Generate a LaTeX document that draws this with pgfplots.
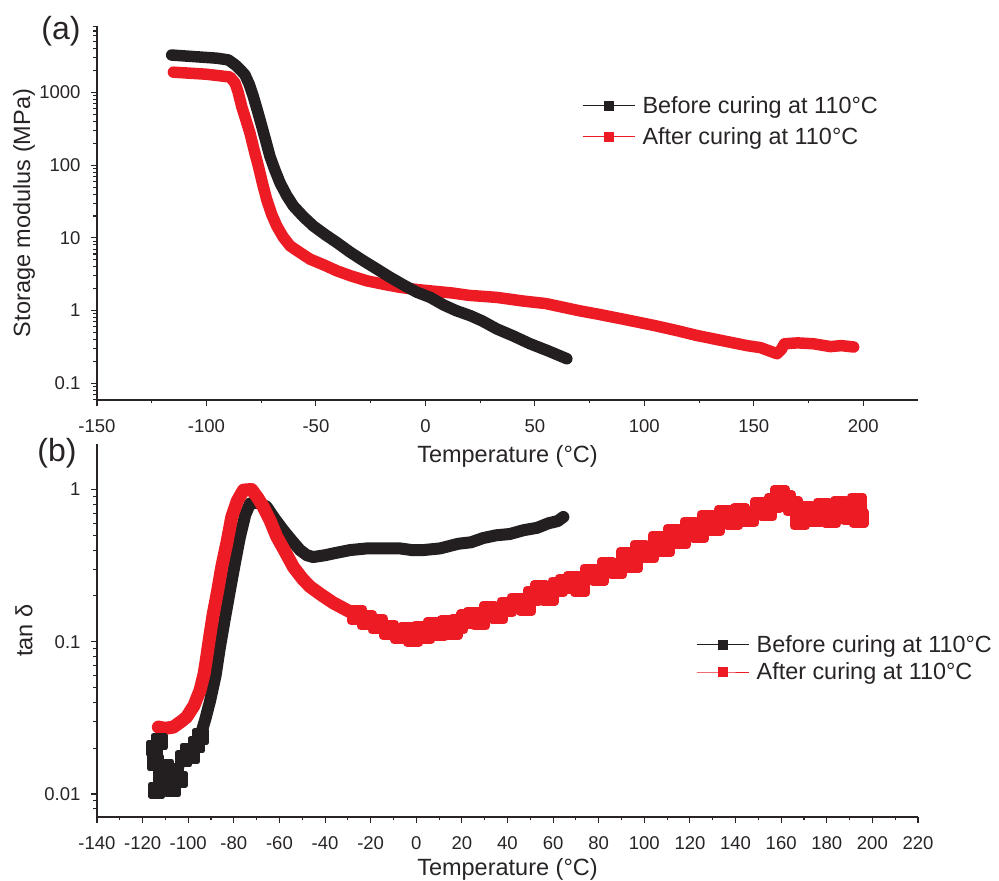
\documentclass[border=0pt]{standalone}
\usepackage{pgfplots}
\pgfplotsset{compat=1.18}
\usepackage{fontspec}
\setmainfont{Liberation Sans}
\definecolor{cblack}{RGB}{35,31,32}
\definecolor{cred}{RGB}{237,28,36}
\definecolor{caxis}{RGB}{40,36,37}

\pgfplotsset{
  myaxis/.style={
    scale only axis, width=821pt,
    axis lines*=left,
    axis line style={caxis, line width=1.3pt},
    tick style={caxis, line width=1.1pt},
    tick align=outside,
    major tick length=6pt, minor tick length=3.5pt,
    minor x tick num=1,
    tick label style={font=\fontsize{18.5}{22}\selectfont, text=caxis},
    xticklabel style={yshift=-10pt},
    yticklabel style={xshift=-7pt},
    /pgf/number format/assume math mode=true,
    label style={font=\fontsize{23.5}{28}\selectfont, text=caxis},
    xlabel style={at={(axis description cs:0.5,0)}, anchor=base, yshift=-58pt},
    ylabel style={at={(axis description cs:0,0.5)}, anchor=center, yshift=73pt},
    legend style={draw=none, fill=none, font=\fontsize{23.4}{28}\selectfont, text=caxis,
      nodes={inner sep=1.5pt}, /tikz/every odd column/.append style={column sep=6pt}},
    legend cell align=left,
  },
  legimg/.style={line width=0.9pt, mark=square*, mark size=4.5pt, mark options={solid},
    legend image code/.code={\draw[mark repeat=2,mark phase=2,##1] plot coordinates {(0pt,0pt)(26pt,0pt)(52pt,0pt)};}},
  band/.style={line width=#1, line join=round, line cap=round, forget plot},
  blocks/.style={line width=#1, line join=round, line cap=butt, mark=square*, mark size=6pt, mark options={solid}, forget plot},
}

\begin{document}
\begin{tikzpicture}
\path[use as bounding box] (-97pt,-64pt) rectangle (902pt,817pt);

% ---------------- top panel (a)
\begin{axis}[ymode=log, myaxis, name=top, at={(0pt,417pt)}, anchor=south west, height=374pt,
  xmin=-150, xmax=225, xtick={-150,-100,-50,0,50,100,150,200},
  ymin=0.059, ymax=8200,
  ytick={0.1,1,10,100,1000}, yticklabels={0.1,1,10,100,1000},
  minor ytick={0.06,0.07,0.08,0.09,0.2,0.3,0.4,0.5,0.6,0.7,0.8,0.9,2,3,4,5,6,7,8,9,20,30,40,50,60,70,80,90,200,300,400,500,600,700,800,900,2000,3000,4000,5000,6000,7000,8000},
  xlabel={Temperature (°C)}, ylabel={Storage modulus (MPa)},
  xlabel style={yshift=-5pt},
  legend style={at={(0.587,0.822)}, anchor=north west, row sep=10pt},
]
\addlegendimage{cblack, legimg}
\addlegendentry{Before curing at 110°C}
\addlegendimage{cred, legimg}
\addlegendentry{After curing at 110°C}

\addplot[cred, band=11.5pt] coordinates {
(-115.1,1900)(-100,1780)(-89.2,1630)(-86.9,1340)(-85.5,1000)(-83.9,640)(-82,420)(-80.1,274)(-78.2,160)(-76.3,97)(-74.4,56)(-72.5,33.8)(-70.2,21)(-67.9,14.6)(-65,10.3)(-61.8,7.77)(-57,6.2)(-52.7,5.1)(-46,4.2)(-40.5,3.53)(-34,3.0)(-26.8,2.57)(-19,2.3)(-11.6,2.09)(-4,1.95)(3.7,1.85)(12,1.75)(20,1.62)(32.6,1.52)(45,1.35)(55,1.25)(63,1.11)(70,1.0)(80,0.88)(93.5,0.73)(105,0.62)(115,0.53)(124,0.455)(135,0.39)(146.9,0.33)(153,0.31)(157,0.28)(160.6,0.255)(162.5,0.29)(164,0.35)(170,0.36)(177.3,0.35)(185,0.32)(190,0.33)(195.6,0.316)
};
\addplot[cblack, band=11.5pt] coordinates {
(-115.9,3270)(-105,3100)(-95.3,2960)(-90,2800)(-86.9,2400)(-84.5,2050)(-82.4,1740)(-80.5,1300)(-78.6,880)(-76.7,560)(-74.7,340)(-72.8,210)(-71,132)(-68.7,85)(-66.4,57)(-63.3,38)(-60.3,27.5)(-55.7,19.5)(-51.2,14.6)(-46,11.2)(-40.5,8.65)(-34.5,6.4)(-28.3,4.84)(-22,3.7)(-16.1,2.87)(-10,2.25)(-3.9,1.79)(2.2,1.52)(8.2,1.2)(14,1.0)(20.4,0.855)(26,0.72)(32.6,0.56)(40,0.45)(47.8,0.35)(56,0.28)(64.6,0.218)
};
\end{axis}

% ---------------- bottom panel (b)
\begin{axis}[ymode=log, myaxis, name=bot, at={(0pt,0pt)}, anchor=south west, height=373pt,
  xmin=-140, xmax=220, xtick={-140,-120,...,220},
  ymin=0.00706, ymax=1.99,
  ytick={0.01,0.1,1}, yticklabels={0.01,0.1,1},
  minor ytick={0.008,0.009,0.02,0.03,0.04,0.05,0.06,0.07,0.08,0.09,0.2,0.3,0.4,0.5,0.6,0.7,0.8,0.9},
  xlabel={Temperature (°C)}, ylabel={tan δ},
  legend style={at={(0.726,0.497)}, anchor=north west, row sep=6pt},
]
\addlegendimage{cblack, legimg}
\addlegendentry{Before curing at 110°C}
\addlegendimage{cred, legimg}
\addlegendentry{After curing at 110°C}

% black: noisy start (blocks), then smooth band
\addplot[cblack, blocks=5pt] coordinates {
(-114.6,0.020)(-114.2,0.016)(-113.8,0.0106)(-112.8,0.022)(-111.5,0.013)(-110,0.015)(-108.5,0.012)(-107,0.0108)(-105.5,0.014)(-104,0.0125)(-102,0.017)(-100,0.019)(-98.5,0.018)(-96.5,0.021)(-94.8,0.0237)
};
\addplot[cblack, band=12pt] coordinates {
(-94.8,0.0237)(-92.5,0.031)(-90.4,0.041)(-88,0.060)(-86.1,0.092)(-84,0.14)(-81.7,0.218)(-79.5,0.33)(-77.3,0.49)(-75,0.68)(-72.9,0.81)(-69,0.82)(-65.6,0.77)(-62,0.64)(-58.3,0.54)(-54.5,0.46)(-51,0.40)(-48,0.37)(-45.2,0.36)(-40,0.37)(-36.4,0.38)(-29,0.40)(-21.7,0.41)(-14,0.41)(-7.1,0.41)(-2,0.40)(3.1,0.40)(10.4,0.41)(18.4,0.44)(24,0.45)(29.4,0.48)(35,0.50)(41,0.51)(47,0.54)(53,0.56)(58,0.60)(62,0.62)(64.5,0.66)
};
% red: smooth band, then noisy blocks
\addplot[cred, band=13pt] coordinates {
(-113.1,0.0275)(-110,0.027)(-106.5,0.0275)(-103,0.030)(-100.7,0.032)(-97.5,0.038)(-94.8,0.048)(-93,0.062)(-91.9,0.079)(-90.5,0.11)(-89,0.153)(-87,0.22)(-85.3,0.31)(-83,0.45)(-80.9,0.66)(-78.5,0.84)(-75.8,0.99)(-72.2,1.0)(-69.5,0.88)(-67.1,0.77)(-64,0.62)(-61.2,0.49)(-57.5,0.39)(-53.9,0.31)(-50,0.26)(-46.6,0.23)(-42,0.205)(-36.4,0.18)(-30,0.16)(-26,0.15)
};
\addplot[cred, blocks=8pt] coordinates {
(-26,0.15)(-21.7,0.138)(-17,0.13)(-12,0.12)(-7.1,0.113)(-4,0.115)(-1.3,0.108)(2,0.118)(4,0.112)(7.5,0.125)(10,0.118)(13.3,0.128)(16,0.12)(18.4,0.13)(22,0.14)(25,0.146)(28,0.138)(32,0.16)(36,0.152)(39.6,0.17)(44,0.18)(48,0.172)(51,0.2)(54.3,0.218)(58,0.2)(62,0.23)(65,0.24)(68.9,0.25)(72,0.23)(76,0.28)(80,0.27)(83.5,0.31)(88,0.3)(92,0.36)(95,0.33)(98.1,0.40)(102,0.38)(106,0.46)(109,0.42)(112.7,0.51)(116,0.47)(120,0.57)(124,0.52)(127.4,0.63)(131,0.58)(135,0.68)(139,0.63)(142,0.70)(146,0.66)(150.8,0.77)(154,0.72)(157,0.82)(159.5,0.92)(162,0.85)(165,0.78)(168.3,0.63)(171,0.72)(175,0.66)(178.5,0.76)(182,0.65)(186,0.78)(190,0.68)(193.1,0.82)(194,0.65)
};
\end{axis}

\node[font=\fontsize{32}{38}\selectfont, text=caxis] at ([xshift=-36pt,yshift=-5pt]top.north west) {(a)};
\node[font=\fontsize{32}{38}\selectfont, text=caxis] at ([xshift=-40pt,yshift=-9.5pt]bot.north west) {(b)};
\end{tikzpicture}
\end{document}
